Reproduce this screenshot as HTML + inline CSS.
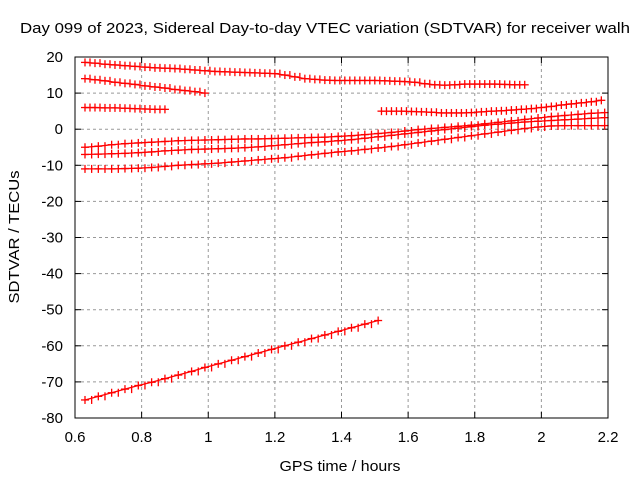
<!DOCTYPE html>
<html><head><meta charset="utf-8"><style>
html,body{margin:0;padding:0;background:#fff;}
svg{display:block;font-family:"Liberation Sans",sans-serif;}
</style></head><body>
<svg id="chart" width="640" height="480">
<text x="325" y="33" font-size="15" text-anchor="middle" textLength="610" lengthAdjust="spacingAndGlyphs">Day 099 of 2023, Sidereal Day-to-day VTEC variation (SDTVAR) for receiver walh</text>
<text x="340" y="471" font-size="15" text-anchor="middle" textLength="121" lengthAdjust="spacingAndGlyphs">GPS time / hours</text>
<text x="19" y="237" font-size="15" text-anchor="middle" textLength="133" lengthAdjust="spacingAndGlyphs" transform="rotate(-90 19 237)">SDTVAR / TECUs</text>
<g id="grid"></g><g id="ticks"></g><g id="series"></g>
<rect x="75" y="57" width="533" height="361" fill="none" stroke="#000" stroke-width="1"/>
</svg>
<script>
const xTicks=[0.6,0.8,1,1.2,1.4,1.6,1.8,2,2.2];
const xTickLabels=["0.6","0.8","1","1.2","1.4","1.6","1.8","2","2.2"];
const yTicks=[20,10,0,-10,-20,-30,-40,-50,-60,-70,-80];
const yTickLabels=["20","10","0","-10","-20","-30","-40","-50","-60","-70","-80"];
const seriesStart=[0.63,0.63,0.63,1.52,0.63,0.63,0.63,0.63];
const seriesStep=[0.03,0.03,0.03,0.03,0.04,0.04,0.04,0.04];
const sA=[18.5,18.3,18,17.8,17.6,17.4,17.2,17,16.9,16.8,16.6,16.4,16.2,16,15.9,15.8,15.7,15.6,15.5,15.4,15,14.5,14,13.8,13.6,13.5,13.5,13.5,13.5,13.5,13.4,13.3,13.2,13,12.6,12.3,12.2,12.3,12.5,12.5,12.5,12.5,12.4,12.3,12.3];
const sB=[14,13.7,13.4,13,12.7,12.4,12,11.7,11.4,11,10.7,10.4,10];
const sC=[6,6,5.9,5.9,5.8,5.7,5.6,5.5,5.5];
const sD=[5,5,5,4.9,4.8,4.7,4.5,4.5,4.5,4.6,4.8,5,5.1,5.3,5.5,5.7,6,6.3,6.7,7,7.3,7.6,8];
const sE=[-5,-4.7,-4.3,-4,-3.8,-3.6,-3.4,-3.2,-3.1,-3,-2.9,-2.8,-2.7,-2.7,-2.6,-2.5,-2.4,-2.3,-2.2,-2.0,-1.8,-1.5,-1.2,-0.9,-0.5,-0.1,0.2,0.5,0.8,1.1,1.5,1.9,2.3,2.7,3.1,3.5,3.8,4.1,4.4,4.6];
const sF=[-7,-6.9,-6.8,-6.7,-6.5,-6.3,-6,-5.8,-5.6,-5.5,-5.4,-5.3,-5.1,-4.9,-4.6,-4.3,-4,-3.7,-3.5,-3.2,-2.9,-2.5,-2.1,-1.7,-1.3,-0.9,-0.5,-0.1,0.3,0.7,1.1,1.4,1.7,2.0,2.2,2.4,2.6,2.8,3.0,3.2];
const sG=[-11,-11,-11,-10.9,-10.8,-10.6,-10.3,-10,-9.8,-9.6,-9.4,-9.1,-8.8,-8.5,-8.2,-7.9,-7.5,-7.1,-6.7,-6.3,-6,-5.6,-5.2,-4.8,-4.3,-3.8,-3.3,-2.8,-2.3,-1.8,-1.3,-0.8,-0.3,0.2,0.6,0.9,1,1,1,1];
const sH=[-75,-74,-73,-72,-71,-70.1,-69.1,-68.1,-67.1,-66,-65,-64,-63,-62,-61,-60,-59,-58,-57,-56,-55,-54,-53];
const allSeries=[sA,sB,sC,sD,sE,sF,sG,sH];
const NS="http://www.w3.org/2000/svg";
const L=75,R=608,T=57,B=418;
function X(t){return L+(t-0.6)/(2.2-0.6)*(R-L);}
function Y(v){return T+(20-v)/100*(B-T);}
function mk(tag,attrs,parent){const e=document.createElementNS(NS,tag);for(const k in attrs)e.setAttribute(k,attrs[k]);parent.appendChild(e);return e;}
const grid=document.getElementById('grid'),ticks=document.getElementById('ticks'),ser=document.getElementById('series');
xTicks.forEach((t,i)=>{const x=X(t);
 if(i>0&&i<xTicks.length-1){const g=mk('line',{x1:x,x2:x,y1:T,y2:B,stroke:'#999','stroke-dasharray':'3,3'},grid);
 
 }
 mk('line',{x1:x,x2:x,y1:B,y2:B-6,stroke:'#000'},ticks);mk('line',{x1:x,x2:x,y1:T,y2:T+6,stroke:'#000'},ticks);
 const tx=mk('text',{x:x,y:B+24,'font-size':15,'text-anchor':'middle'},ticks);tx.textContent=xTickLabels[i];
 
 });
yTicks.forEach((v,i)=>{const y=Y(v);
 if(i>0&&i<yTicks.length-1){const g=mk('line',{x1:L,x2:R,y1:y,y2:y,stroke:'#999','stroke-dasharray':'3,3'},grid);
 
 }
 mk('line',{x1:L,x2:L+6,y1:y,y2:y,stroke:'#000'},ticks);mk('line',{x1:R,x2:R-6,y1:y,y2:y,stroke:'#000'},ticks);
 const tx=mk('text',{x:L-12,y:y+5,'font-size':15,'text-anchor':'end'},ticks);tx.textContent=yTickLabels[i];
 
 });
allSeries.forEach((vals,si)=>{
 const g=mk('g',{stroke:'#f00','stroke-width':1.3},ser);
 
 
 let pts=[];
 vals.forEach((v,i)=>{const t=seriesStart[si]+i*seriesStep[si];const x=X(t),y=Y(v);pts.push(x+','+y);
  mk('line',{x1:x-4,x2:x+4,y1:y,y2:y},g);mk('line',{x1:x,x2:x,y1:y-4,y2:y+4},g);
  const xh=X(t+seriesStep[si]/2);
  if(i<vals.length-1){mk('line',{x1:xh,x2:xh,y1:y-4,y2:y+4},g);}
 });
 mk('polyline',{points:pts.join(' '),fill:'none'},g);
});
</script>
</body></html>
